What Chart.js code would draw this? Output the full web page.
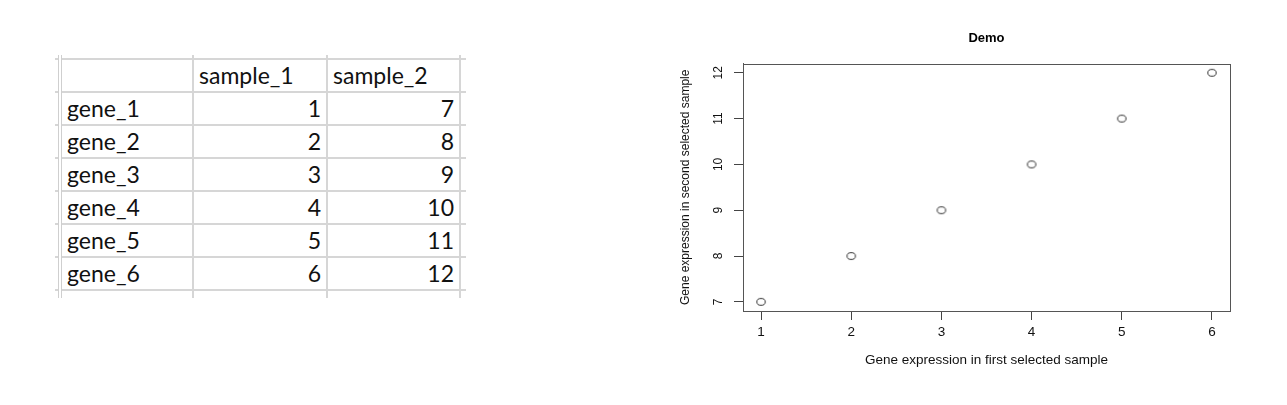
<!DOCTYPE html>
<html>
<head>
<meta charset="utf-8">
<script src="https://cdn.jsdelivr.net/npm/chart.js@4"></script>
<style>
  body { margin: 0; background: #fff; width: 1287px; height: 405px; overflow: hidden; position: relative; }
  #sheet { position: absolute; left: 55px; top: 55px; border-collapse: collapse; font-family: Lato, "Open Sans", sans-serif; font-size: 23px; color: #111; }
  #sheet td { border: 2px solid #d6d6d6; height: 33px; padding: 0 5px 2px 5px; box-sizing: border-box; line-height: 28px; vertical-align: bottom; }
  #sheet td.num { text-align: right; }
  #sheet td.stub { width: 5px; padding: 0; border-left: none; }
  #sheet td.edge { width: 6px; padding: 0; border-right: none; }
  #sheet tr.cap td { height: 4px; line-height: 4px; padding: 0; border-top: none; border-bottom: none; }
  #sheet tr.foot td { height: 8px; line-height: 8px; padding: 0; border-bottom: none; }
  #sheet td.hdr { border-left: 4px double #cfcfcf; }
  #plot { position: absolute; left: 640px; top: 0; }
</style>
</head>
<body>
<table id="sheet"></table>
<canvas id="plot" width="647" height="405"></canvas>
<script>
var genes = ['gene_1', 'gene_2', 'gene_3', 'gene_4', 'gene_5', 'gene_6'];
var sampleNames = ['sample_1', 'sample_2'];
var sample1 = [1, 2, 3, 4, 5, 6];
var sample2 = [7, 8, 9, 10, 11, 12];
var xTicks = [1, 2, 3, 4, 5, 6];
var yTicks = [7, 8, 9, 10, 11, 12];

// spreadsheet on the left
function buildSheet() {
    var t = document.getElementById('sheet');
    var widths = [133, 134, 133];
    var html = '<tr class="cap"><td class="stub" style="border:none"></td>' +
        widths.map(function (w, i) { return '<td' + (i == 0 ? ' class="hdr"' : '') + ' style="width:' + w + 'px"></td>'; }).join('') +
        '<td class="edge" style="border:none"></td></tr>';
    html += '<tr><td class="stub"></td><td class="hdr"></td><td>' + sampleNames[0] + '</td><td>' + sampleNames[1] + '</td><td class="edge"></td></tr>';
    for (var i = 0; i < genes.length; i++) {
        html += '<tr><td class="stub"></td><td class="hdr">' + genes[i] + '</td><td class="num">' + sample1[i] +
            '</td><td class="num">' + sample2[i] + '</td><td class="edge"></td></tr>';
    }
    html += '<tr class="foot"><td class="stub" style="border:none"></td><td class="hdr"></td><td></td><td></td><td class="edge" style="border:none"></td></tr>';
    t.innerHTML = html;
}
buildSheet();

// open circle, a little wider than tall like the R export
function ringPoint() {
    var c = document.createElement('canvas');
    c.width = 12; c.height = 10;
    var g = c.getContext('2d');
    g.strokeStyle = '#333';
    g.lineWidth = 1;
    g.beginPath();
    g.ellipse(6, 5, 4.2, 3.4, 0, 0, Math.PI * 2);
    g.stroke();
    return c;
}

// R style box around the plotting region
var boxPlugin = {
    id: 'box',
    afterDraw: function (chart) {
        var a = chart.chartArea, ctx = chart.ctx;
        ctx.save();
        ctx.strokeStyle = '#555';
        ctx.lineWidth = 1;
        ctx.strokeRect(Math.round(a.left) + 0.5, Math.round(a.top) + 0.5, Math.round(a.right - a.left), Math.round(a.bottom - a.top));
        ctx.restore();
    }
};

var xFont = { family: 'Liberation Sans, Arial, sans-serif', size: 13.5 };
var yFont = { family: 'Liberation Sans, Arial, sans-serif', size: 12 };

var ctx = document.getElementById('plot').getContext('2d');
var chart = new Chart(ctx, {
    type: 'scatter',
    data: {
        datasets: [{
            data: sample1.map(function (v, i) { return { x: v, y: sample2[i] }; }),
            pointStyle: ringPoint(),
            pointRadius: 4,
            borderColor: '#222',
            backgroundColor: 'rgba(0,0,0,0)'
        }]
    },
    options: {
        responsive: false,
        animation: false,
        layout: { padding: { left: 0, right: 57, top: 0, bottom: 0 } },
        plugins: {
            legend: { display: false },
            tooltip: { enabled: false },
            title: {
                display: true,
                text: 'Demo',
                fullSize: false,
                color: '#000',
                font: { family: 'Liberation Sans, Arial, sans-serif', size: 13, weight: 'bold' },
                padding: { top: 31, bottom: 17 }
            }
        },
        scales: {
            x: {
                type: 'linear',
                min: 0.8,
                max: 6.2,
                afterBuildTicks: function (scale) { scale.ticks = xTicks.map(function (v) { return { value: v }; }); },
                afterFit: function (scale) { scale.height = 94; },
                grid: { drawOnChartArea: false, drawTicks: true, tickLength: 9, tickColor: '#444' },
                border: { display: true, color: '#555' },
                ticks: { color: '#111', font: xFont, padding: 4, maxRotation: 0, autoSkip: false },
                title: { display: true, text: 'Gene expression in first selected sample', color: '#111', font: xFont, padding: { top: 0, bottom: 37 } }
            },
            y: {
                type: 'linear',
                min: 6.8,
                max: 12.2,
                afterBuildTicks: function (scale) { scale.ticks = yTicks.map(function (v) { return { value: v }; }); },
                afterFit: function (scale) { scale.width = 103; },
                grid: { drawOnChartArea: false, drawTicks: true, tickLength: 9, tickColor: '#444' },
                border: { display: true, color: '#555' },
                ticks: { color: '#111', font: yFont, padding: 9, minRotation: 90, maxRotation: 90, crossAlign: 'center', autoSkip: false },
                title: { display: true, text: 'Gene expression in second selected sample', color: '#111', font: yFont, padding: { top: 38, bottom: 0 } }
            }
        }
    },
    plugins: [boxPlugin]
});
</script>
</body>
</html>
